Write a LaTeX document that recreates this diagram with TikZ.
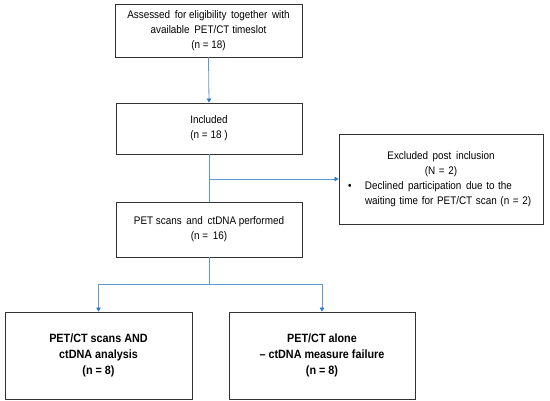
\documentclass[tikz,border=0pt]{standalone}
\usepackage{fontspec}
\setmainfont[FakeStretch=0.9]{Liberation Sans}
\usetikzlibrary{arrows.meta}
\definecolor{linec}{RGB}{91,155,213}
\definecolor{tipc}{RGB}{46,117,200}
\definecolor{boxc}{RGB}{50,50,50}
\newcommand{\xsp}{\hspace{0.42em}}
\begin{document}
\begin{tikzpicture}[x=1pt,y=-1pt,
  boxn/.style={draw=boxc,line width=0.9pt,inner sep=0pt,align=center,
    font=\fontsize{11}{15}\selectfont},
  boldn/.style={boxn,font=\fontsize{12}{16}\selectfont\bfseries},
  conn/.style={draw=linec,line width=0.8pt},
  arr/.style={conn,-{Triangle[length=4pt,width=4.5pt,color=tipc]}}]
\useasboundingbox (0,0) rectangle (550,400);
\node[boxn,minimum width=187pt,minimum height=53pt] (b1) at (208.5,30.5)
  {Assessed\xsp for eligibility\xsp together\xsp with\\available\xsp PET/CT timeslot\\(n = 18)};
\node[boxn,minimum width=186pt,minimum height=51pt] (b2) at (209,128.5)
  {Included\\(n = 18 )};
\node[boxn,minimum width=204pt,minimum height=90pt,text width=204pt] (ex) at (441,179)
  {\centering Excluded\xsp post\xsp inclusion\\(N = 2)\par
   \raggedright\leftskip=26pt\hskip-17pt\makebox[17pt][l]{\textbullet}Declined\xsp participation\xsp due to the\\waiting time for PET/CT scan (n = 2)\par};
\node[boxn,minimum width=186pt,minimum height=55pt] (b3) at (209,229.5)
  {PET scans\xsp and\xsp ctDNA performed\\(n =\xsp 16)};
\node[boldn,minimum width=187pt,minimum height=87pt] (b4) at (98.5,355.5)
  {PET/CT scans AND\\ctDNA analysis\\(n = 8)};
\node[boldn,minimum width=186pt,minimum height=87pt] (b5) at (322,355.5)
  {PET/CT alone\\– ctDNA measure failure\\(n = 8)};
\coordinate (j1) at (209,179);
\coordinate (j2) at (209,284);
\draw[arr] (b1.south) -- (b2.north);
\draw[conn] (b2.south) -- (b3.north);
\draw[arr] (j1) -- (ex.west);
\draw[conn] (b3.south) -- (j2);
\draw[arr] (j2) -| (b4.north);
\draw[arr] (j2) -| (b5.north);
\end{tikzpicture}
\end{document}
